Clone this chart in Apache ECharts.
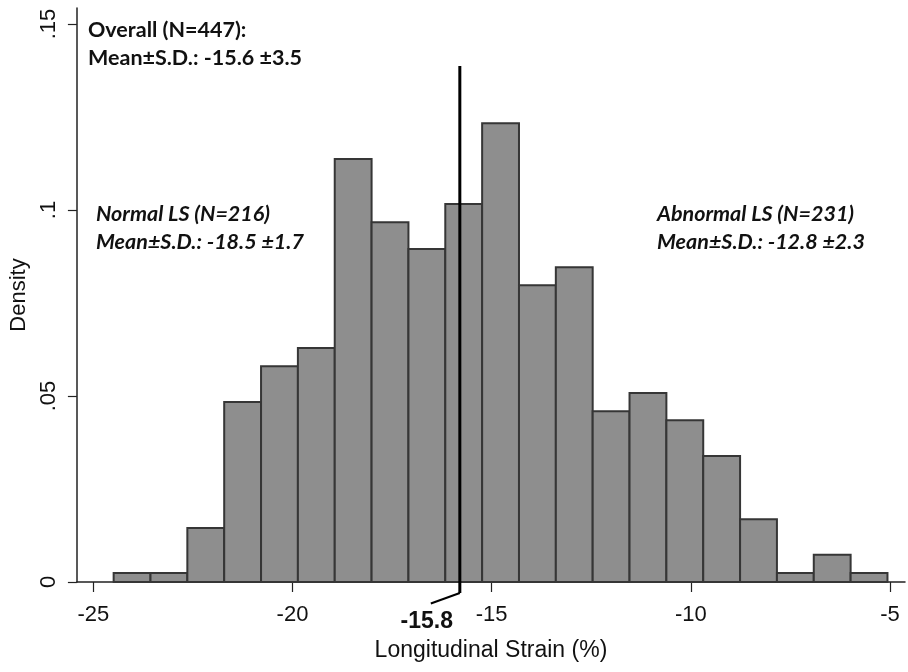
<!DOCTYPE html>
<html>
<head>
<meta charset="utf-8">
<script src="https://cdn.jsdelivr.net/npm/echarts@6/dist/echarts.min.js"></script>
<style>
html,body{margin:0;padding:0;background:#fff;}
#chart{width:908px;height:672px;}
</style>
</head>
<body>
<div id="chart"></div>
<script>
// Histogram bin edges (Longitudinal strain, %)
var binEdges = [-24.49, -23.565, -22.64, -21.715, -20.79, -19.865, -18.94, -18.015, -17.09, -16.165,
                -15.24, -14.315, -13.39, -12.465, -11.54, -10.615, -9.69, -8.765, -7.84, -6.915, -5.99, -5.065];
// Density of each bin
var densities = [0.0024, 0.0024, 0.0145, 0.0484, 0.0580, 0.0629, 0.1137, 0.0967, 0.0895, 0.1016,
                 0.1233, 0.0798, 0.0846, 0.0459, 0.0508, 0.0435, 0.0339, 0.0169, 0.0024, 0.0073, 0.0024];
// Cut-off line: [x value, height]
var cutLine = [-15.8, 0.1387];
// Tick values
var xTicks = [-25, -20, -15, -10, -5];
var yTicks = [0, 0.05, 0.1, 0.15];
// Annotation texts
var overallText = ['Overall (N=447):', 'Mean\u00B1S.D.: -15.6 \u00B13.5'];
var normalText = ['Normal LS (N=216)', 'Mean\u00B1S.D.: -18.5 \u00B11.7'];
var abnormalText = ['Abnormal LS (N=231)', 'Mean\u00B1S.D.: -12.8 \u00B12.3'];

var barData = densities.map(function (d, i) { return [binEdges[i], binEdges[i + 1], d]; });

var chart = echarts.init(document.getElementById('chart'), null, {renderer: 'canvas'});
var axisFont = 'Liberation Sans, Arial, sans-serif';
var annFont = 'Lato, "Open Sans", sans-serif';

function annLines(lines, x, yMid, italic) {
  return lines.map(function (t, k) {
    return {
      type: 'text', x: x, y: yMid + k * 28,
      style: {text: t, fill: '#111', font: (italic ? 'italic ' : '') + 'bold 21.5px ' + annFont,
              verticalAlign: 'middle', align: 'left'}
    };
  });
}

var option = {
  animation: false,
  backgroundColor: '#fff',
  grid: {left: 73, right: 3, top: 8, bottom: 90, containLabel: false},
  xAxis: {
    type: 'value', min: -25.4125, max: -4.625,
    name: 'Longitudinal Strain (%)', nameLocation: 'middle', nameGap: 57,
    nameTextStyle: {fontFamily: axisFont, fontSize: 23, color: '#111'},
    axisLine: {show: true, lineStyle: {color: '#222', width: 1.5}},
    axisTick: {show: true, length: 10, customValues: xTicks, lineStyle: {color: '#222', width: 1.2}},
    axisLabel: {customValues: xTicks, margin: 22, fontFamily: axisFont, fontSize: 22, color: '#111'},
    splitLine: {show: false}
  },
  yAxis: {
    type: 'value', min: 0, max: 0.1543,
    name: 'Density', nameLocation: 'middle', nameGap: 42,
    nameTextStyle: {fontFamily: axisFont, fontSize: 22, color: '#111'},
    axisLine: {show: true, lineStyle: {color: '#222', width: 1.5}},
    axisTick: {show: true, length: 9, customValues: yTicks, lineStyle: {color: '#222', width: 1.2}},
    axisLabel: {
      customValues: yTicks, rotate: 90, margin: 17, fontFamily: axisFont, fontSize: 22, color: '#111',
      formatter: function (v) { return v === 0 ? '0' : String(+v.toFixed(3)).replace(/^0/, ''); }
    },
    splitLine: {show: false}
  },
  series: [
    {
      type: 'custom',
      data: barData,
      encode: {x: [0, 1], y: 2},
      clip: false,
      renderItem: function (params, api) {
        var p0 = api.coord([api.value(0), api.value(2)]);
        var p1 = api.coord([api.value(1), 0]);
        return {
          type: 'rect',
          shape: {x: p0[0], y: p0[1], width: p1[0] - p0[0], height: p1[1] - p0[1]},
          style: {fill: '#8e8e8e', stroke: '#363636', lineWidth: 2}
        };
      }
    },
    {
      type: 'custom',
      data: [cutLine],
      encode: {x: 0, y: 1},
      clip: false,
      z: 5,
      renderItem: function (params, api) {
        var top = api.coord([api.value(0), api.value(1)]);
        var base = api.coord([api.value(0), 0]);
        return {
          type: 'group',
          children: [
            {type: 'line', shape: {x1: top[0], y1: top[1], x2: base[0], y2: base[1] + 11},
             style: {stroke: '#000', lineWidth: 3}},
            {type: 'line', shape: {x1: base[0], y1: base[1] + 11, x2: base[0] - 29, y2: base[1] + 21.5},
             style: {stroke: '#000', lineWidth: 2}},
            {type: 'text', x: base[0] - 33, y: base[1] + 40,
             style: {text: String(api.value(0)), font: 'bold 23px ' + axisFont, fill: '#111',
                     align: 'center', verticalAlign: 'middle'}}
          ]
        };
      }
    }
  ],
  graphic: [].concat(
    annLines(overallText, 88, 30, false),
    annLines(normalText, 96, 214, true),
    annLines(abnormalText, 657, 214, true)
  )
};
chart.setOption(option);
</script>
</body>
</html>
